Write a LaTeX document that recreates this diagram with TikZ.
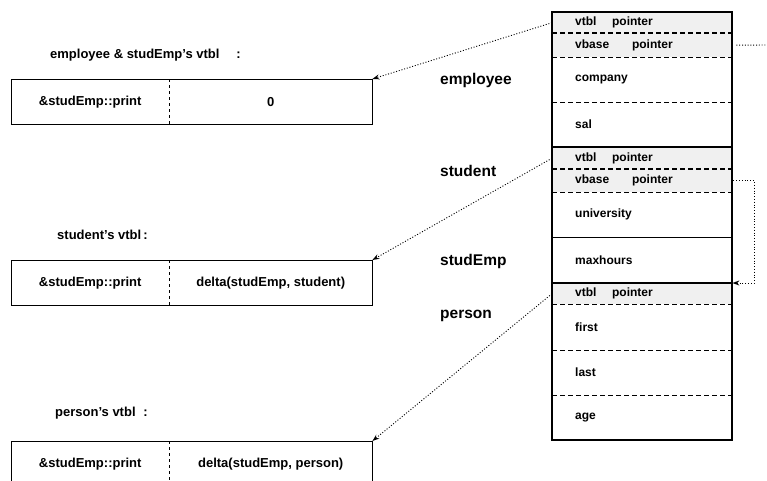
\documentclass[tikz,border=0pt]{standalone}
\usepackage{fontspec}
\setmainfont{Liberation Sans}
\usetikzlibrary{arrows.meta}
\newlength{\rowwd}
\setlength{\rowwd}{180pt}
\definecolor{ptrgray}{gray}{0.94}

\begin{document}
\begin{tikzpicture}[x=1pt,y=-1pt,
  row/.style={anchor=north west,minimum width=\rowwd,inner xsep=23pt,inner ysep=0pt,text width=134pt,align=left,font=\bfseries\fontsize{12}{14}\selectfont},
  ptr/.style={row,fill=ptrgray},
  cell/.style={anchor=north west,minimum height=45pt,inner sep=0pt,font=\bfseries\fontsize{13}{15}\selectfont},
  tag/.style={anchor=west,inner sep=0pt,font=\bfseries\fontsize{15.5}{18}\selectfont},
  title/.style={anchor=west,inner sep=0pt,font=\bfseries\fontsize{13}{15}\selectfont},
  sep/.style={dash pattern=on 5pt off 3pt,line width=1pt},
  link/.style={dash pattern=on 1pt off 1.8pt,line width=0.9pt,-{Stealth[open,length=7pt,width=5pt]}}]
            \useasboundingbox (0,0) rectangle (767,480);
            % object layout of studEmp
            \node[ptr,minimum height=21pt] (evtbl) at (552,12) {vtbl\hspace{1.3em}pointer};
            \node[ptr,minimum height=24pt] (evbase) at (552,33) {vbase\hspace{1.9em}pointer};
            \node[row,minimum height=45pt] (ecomp) at (552,57) {company};
            \node[row,minimum height=45pt] (esal) at (552,102) {sal};
            \node[ptr,minimum height=22pt] (svtbl) at (552,147) {vtbl\hspace{1.3em}pointer};
            \node[ptr,minimum height=23pt] (svbase) at (552,169) {vbase\hspace{1.9em}pointer};
            \node[row,minimum height=45pt] (suni) at (552,192) {university};
            \node[row,minimum height=46pt] (smax) at (552,237) {maxhours};
            \node[ptr,minimum height=21pt] (pvtbl) at (552,283) {vtbl\hspace{1.3em}pointer};
            \node[row,minimum height=46pt] (pfirst) at (552,304) {first};
            \node[row,minimum height=45pt] (plast) at (552,350) {last};
            \node[row,minimum height=45pt] (page) at (552,395) {age};
            \draw[sep,line width=2pt] (evtbl.south west)--(evtbl.south east);
            \draw[sep] (evbase.south west)--(evbase.south east);
            \draw[sep] (ecomp.south west)--(ecomp.south east);
            \draw[line width=2pt] (esal.south west)--(esal.south east);
            \draw[sep,line width=2pt] (svtbl.south west)--(svtbl.south east);
            \draw[sep] (svbase.south west)--(svbase.south east);
            \draw[line width=1.5pt] (suni.south west)--(suni.south east);
            \draw[line width=2pt] (smax.south west)--(smax.south east);
            \draw[sep,line width=1.5pt] (pvtbl.south west)--(pvtbl.south east);
            \draw[sep] (pfirst.south west)--(pfirst.south east);
            \draw[sep] (plast.south west)--(plast.south east);
            \draw[line width=2pt] (evtbl.north west) rectangle (page.south east);
            \node[tag] (lemp) at (440,80) {employee};
            \node[tag] (lstu) at (440,171) {student};
            \node[tag] (lse) at (440,261) {studEmp};
            \node[tag] (lper) at (440,316) {person};
            % the three vtbls
            \node[title] (etitle) at (50,55) {employee \& studEmp's vtbl\hspace{1.3em}:};
            \node[cell,minimum width=158pt] (eaddr) at (11,79) {\&studEmp::print};
            \node[cell,minimum width=203pt] (eoff) at (169,79) {0};
            \draw (eaddr.north west) rectangle (eoff.south east);
            \draw[dashed] (eaddr.north east)--(eaddr.south east);
            \node[title] (stitle) at (57,235) {student's vtbl\,:};
            \node[cell,minimum width=158pt] (saddr) at (11,260) {\&studEmp::print};
            \node[cell,minimum width=203pt] (soff) at (169,260) {delta(studEmp, student)};
            \draw (saddr.north west) rectangle (soff.south east);
            \draw[dashed] (saddr.north east)--(saddr.south east);
            \node[title] (ptitle) at (55,413) {person's vtbl\hspace{0.6em}:};
            \node[cell,minimum width=158pt] (paddr) at (11,441) {\&studEmp::print};
            \node[cell,minimum width=203pt] (poff) at (169,441) {delta(studEmp, person)};
            \draw (paddr.north west) rectangle (poff.south east);
            \draw[dashed] (paddr.north east)--(paddr.south east);
            % pointers
            \draw[link] (evtbl.west)--(eoff.north east);
            \draw[link] (svtbl.west)--(soff.north east);
            \draw[link] (pvtbl.west)--(poff.north east);
            \coordinate (eout) at (767,45);
            \draw[link,-,shorten <=4pt] (evbase.east)--(eout);
            \draw[link,shorten <=1pt] (svbase.east)--++(22,0)|-(pvtbl.north east);
\end{tikzpicture}
\end{document}
